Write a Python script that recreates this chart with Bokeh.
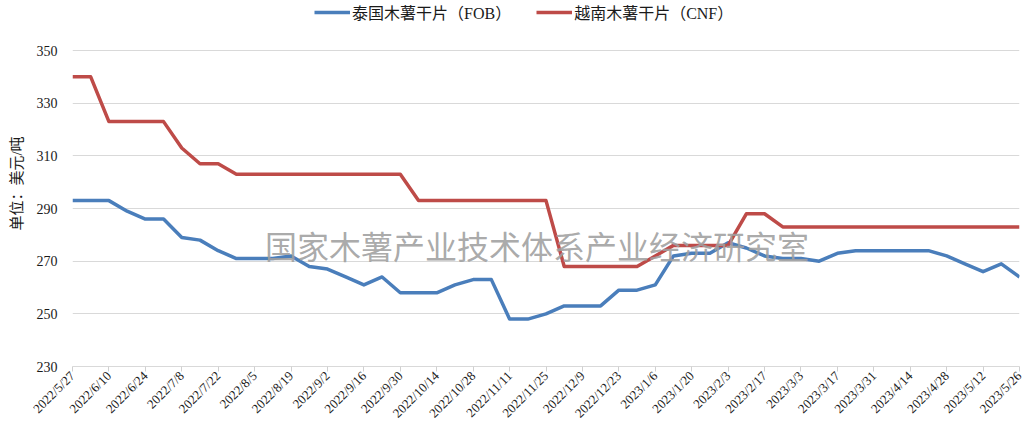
import math
from bokeh.plotting import figure
from bokeh.models import ColumnDataSource, FixedTicker, Legend, LegendItem, Label, Range1d
from bokeh.embed import file_html
from bokeh.resources import INLINE

# ---- data (weekly, 2022/5/27 .. 2023/5/26) ----
tick_labels = ["2022/5/27", "2022/6/10", "2022/6/24", "2022/7/8", "2022/7/22", "2022/8/5",
               "2022/8/19", "2022/9/2", "2022/9/16", "2022/9/30", "2022/10/14", "2022/10/28",
               "2022/11/11", "2022/11/25", "2022/12/9", "2022/12/23", "2023/1/6", "2023/1/20",
               "2023/2/3", "2023/2/17", "2023/3/3", "2023/3/17", "2023/3/31", "2023/4/14",
               "2023/4/28", "2023/5/12", "2023/5/26"]

thai_fob = [293, 293, 293, 289, 286, 286, 279, 278, 274, 271,
            271, 271, 272, 268, 267, 264, 261, 264, 258, 258,
            258, 261, 263, 263, 248, 248, 250, 253, 253, 253,
            259, 259, 261, 272, 273, 273, 277, 275, 272, 271,
            271, 270, 273, 274, 274, 274, 274, 274, 272, 269,
            266, 269, 264]

vietnam_cnf = [340, 340, 323, 323, 323, 323, 313, 307, 307, 303,
               303, 303, 303, 303, 303, 303, 303, 303, 303, 293,
               293, 293, 293, 293, 293, 293, 293, 268, 268, 268,
               268, 268, 272, 276, 276, 276, 276, 288, 288, 283,
               283, 283, 283, 283, 283, 283, 283, 283, 283, 283,
               283, 283, 283]

series_names = ["泰国木薯干片（FOB）", "越南木薯干片（CNF）"]
y_ticks = [230, 250, 270, 290, 310, 330, 350]
y_label = "单位：美元/吨"
watermark = "国家木薯产业技术体系产业经济研究室"

weeks = list(range(len(thai_fob)))
src = ColumnDataSource(dict(x=weeks, thai=thai_fob, viet=vietnam_cnf))

SERIF = "Liberation Serif, Noto Sans CJK SC"

# the frame reaches the top of the figure so the legend can sit inside it
p = figure(width=1024, height=430, output_backend="svg", toolbar_location=None,
           x_range=Range1d(0, len(weeks) - 1), y_range=Range1d(230, 369.0),
           min_border_left=72, min_border_right=5, min_border_top=0, min_border_bottom=64)
p.outline_line_color = None
p.background_fill_color = "white"
p.border_fill_color = "white"

blue = "#4A7EBB"
red = "#BE4B48"
r1 = p.line("x", "thai", source=src, line_color=blue, line_width=3.5, line_join="round")
r2 = p.line("x", "viet", source=src, line_color=red, line_width=3.5, line_join="round")

# watermark
p.add_layout(Label(x=25.5, y=276, text=watermark, text_align="center", text_baseline="middle",
                   text_font="Noto Sans CJK SC", text_font_size="32px",
                   text_color="#a0a0a0", text_alpha=0.9))

# x axis
xa = p.xaxis[0]
xa.ticker = FixedTicker(ticks=list(range(0, len(weeks), 2)))
xa.major_label_overrides = {i * 2: lbl for i, lbl in enumerate(tick_labels)}
xa.major_label_orientation = math.pi / 4
xa.major_label_text_font = SERIF
xa.major_label_text_font_size = "13px"
xa.major_label_text_color = "#1a1a1a"
xa.axis_line_color = "#d9d9d9"
xa.major_tick_line_color = "#d0d0d0"
xa.major_tick_in = 0
xa.major_tick_out = 5
xa.minor_tick_line_color = None
xa.major_label_standoff = 2

# y axis
ya = p.yaxis[0]
ya.ticker = FixedTicker(ticks=y_ticks)
ya.axis_line_color = None
ya.major_tick_line_color = None
ya.major_tick_in = 0
ya.major_tick_out = 0
ya.minor_tick_line_color = None
ya.major_label_text_font = SERIF
ya.major_label_text_font_size = "14px"
ya.major_label_text_color = "#1a1a1a"
ya.major_label_standoff = 15
ya.axis_label = y_label
ya.axis_label_text_font = SERIF
ya.axis_label_text_font_size = "15px"
ya.axis_label_text_font_style = "normal"
ya.axis_label_text_color = "#1a1a1a"
ya.axis_label_standoff = 9

p.xgrid.grid_line_color = None
p.ygrid.grid_line_color = "#d9d9d9"
p.ygrid.grid_line_width = 1
p.ygrid.ticker = FixedTicker(ticks=y_ticks)

legend = Legend(items=[LegendItem(label=series_names[0], renderers=[r1]),
                       LegendItem(label=series_names[1], renderers=[r2])],
                orientation="horizontal", location=(242, 342),
                label_text_font=SERIF, label_text_font_size="16px", label_text_color="#1a1a1a",
                glyph_width=36, glyph_height=14, label_standoff=2, spacing=25,
                border_line_color=None, background_fill_alpha=0,
                padding=0, margin=0)
p.add_layout(legend)

open("out.html", "w").write(file_html(p, INLINE))
